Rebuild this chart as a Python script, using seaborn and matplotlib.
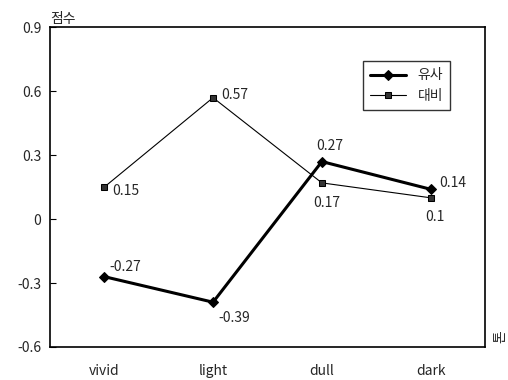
import numpy as np
import pandas as pd
import matplotlib
matplotlib.use("Agg")
import matplotlib.pyplot as plt
import seaborn as sns

categories = ["vivid", "light", "dull", "dark"]
similar = [-0.27, -0.39, 0.27, 0.14]   # 유사
contrast = [0.15, 0.57, 0.17, 0.10]    # 대비
y_ticks = [-0.6, -0.3, 0, 0.3, 0.6, 0.9]
y_tick_labels = ["-0.6", "-0.3", "0", "0.3", "0.6", "0.9"]

sns.set_style("white")
plt.rcParams['font.family'] = ['Noto Sans CJK KR', 'DejaVu Sans']

df = pd.DataFrame({"pos": np.arange(len(categories)), "유사": similar, "대비": contrast})

fig, ax = plt.subplots(figsize=(5.08, 3.8), dpi=100)
fig.subplots_adjust(left=0.098, right=0.955, top=0.928, bottom=0.087)

sns.lineplot(data=df, x="pos", y="유사", ax=ax, color="black", lw=2.2,
             marker="D", markersize=5, markeredgecolor="black", label="유사")
sns.lineplot(data=df, x="pos", y="대비", ax=ax, color="black", lw=0.8,
             marker="s", markersize=5, markeredgecolor="black",
             markerfacecolor="#333333", label="대비")

# value labels
offs_sim = [(4, 4), (4, -14), (-4, 8), (6, 2)]
offs_con = [(6, -6), (6, -1), (-6, -17), (-4, -17)]
for i, v in enumerate(similar):
    ax.annotate(f"{v:g}", (i, v), xytext=offs_sim[i],
                textcoords="offset points", fontsize=10)
for i, v in enumerate(contrast):
    ax.annotate(f"{v:g}", (i, v), xytext=offs_con[i],
                textcoords="offset points", fontsize=10)

ax.set_xlim(-0.5, len(categories) - 0.5)
ax.set_ylim(-0.6, 0.9)
ax.set_yticks(y_ticks)
ax.set_yticklabels(y_tick_labels, fontsize=10)
ax.set_xticks(np.arange(len(categories)))
ax.set_xticklabels(categories, fontsize=10)
ax.set_xticks(np.arange(len(categories) - 1) + 0.5, minor=True)
ax.tick_params(axis="x", which="major", length=0, pad=12)
ax.tick_params(axis="x", which="minor", direction="in", length=4, color="black")
ax.tick_params(axis="y", direction="in", length=4, color="black", left=True, pad=6)
ax.set_xlabel("")
ax.set_ylabel("")
for s in ax.spines.values():
    s.set_color("black")
    s.set_linewidth(1.2)

ax.text(0.0, 1.005, "점수", transform=ax.transAxes, fontsize=10, va="bottom", ha="left")
fig.text(0.972, 0.115, "톤", fontsize=10, va="center", ha="left", rotation=90)

leg = ax.legend(loc="upper right", bbox_to_anchor=(0.935, 0.915), frameon=True,
                fancybox=False, edgecolor="black", fontsize=10, handlelength=2.6,
                borderpad=0.5, labelspacing=0.5)
leg.get_frame().set_linewidth(1.0)

fig.savefig("out.png", dpi=100)
